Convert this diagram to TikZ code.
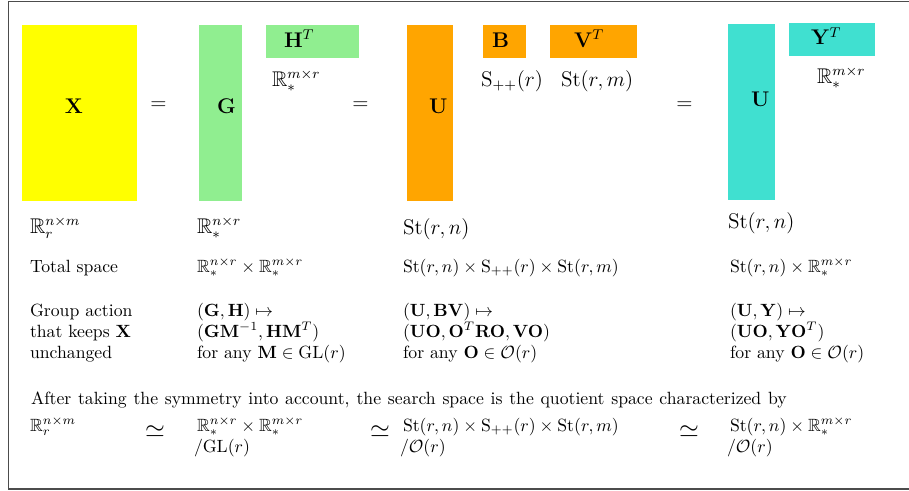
\documentclass[tikz,border=0pt]{standalone}
\usepackage{amsmath,amssymb}
\definecolor{cyellow}{HTML}{FFFF00}
\definecolor{cgreen}{HTML}{90EE90}
\definecolor{corange}{HTML}{FFA500}
\definecolor{cturq}{HTML}{40E0D0}
\begin{document}
\begin{tikzpicture}[x=0.565pt,y=-0.565pt,
  txt/.style={anchor=base west, inner sep=0pt, outer sep=0pt},
  big/.style={txt, font=\large},
  eqs/.style={inner sep=0pt, font=\large},
  sim/.style={inner sep=0pt, font=\Large}]
\useasboundingbox (0,0) rectangle (909,491);
\draw[black!70, line width=0.7pt] (909,1.5) -- (8.5,1.5) -- (8.5,489) -- (909,489);
% boxes
\fill[cyellow] (22,25) rectangle (137,201);
\fill[cgreen] (199,25) rectangle (242,201);
\fill[cgreen] (266,25) rectangle (359,58);
\fill[corange] (407,25) rectangle (453,201);
\fill[corange] (483,25) rectangle (526,58);
\fill[corange] (550,25) rectangle (637,58);
\fill[cturq] (728,24) rectangle (775,200);
\fill[cturq] (789,23) rectangle (875,56);
% box labels
\node[big] (lX) at (65,113) {$\mathbf{X}$};
\node[big] (lG) at (217,113) {$\mathbf{G}$};
\node[big] (lH) at (284,47) {$\mathbf{H}^T$};
\node[big] (lU1) at (429,113) {$\mathbf{U}$};
\node[big] (lB) at (492,47) {$\mathbf{B}$};
\node[big] (lV) at (574,47) {$\mathbf{V}^T$};
\node[big] (lU2) at (751,106) {$\mathbf{U}$};
\node[big] (lY) at (811,45) {$\mathbf{Y}^T$};
% equals
\node[eqs] (eq1) at (158.5,106) {$=$};
\node[eqs] (eq2) at (360.5,106) {$=$};
\node[eqs] (eq3) at (684.5,106) {$=$};
% space labels
\node[big] (sX) at (30,233) {$\mathbb{R}_r^{n\times m}$};
\node[big] (sG) at (197,233) {$\mathbb{R}_*^{n\times r}$};
\node[big] (sH) at (272,86) {$\mathbb{R}_*^{m\times r}$};
\node[big] (sU1) at (403,234) {$\mathrm{St}(r,n)$};
\node[big] (sB) at (481,86) {$\mathrm{S}_{++}(r)$};
\node[big] (sV) at (561,86) {$\mathrm{St}(r,m)$};
\node[big] (sU2) at (728,228) {$\mathrm{St}(r,n)$};
\node[big] (sY) at (817,83) {$\mathbb{R}_*^{m\times r}$};
% total space row
\node[txt] (t1) at (30,272) {Total space};
\node[txt] (t2) at (197,272) {$\mathbb{R}_*^{n\times r}\times\mathbb{R}_*^{m\times r}$};
\node[txt] (t3) at (403,272) {$\mathrm{St}(r,n)\times\mathrm{S}_{++}(r)\times\mathrm{St}(r,m)$};
\node[txt] (t4) at (730,272) {$\mathrm{St}(r,n)\times\mathbb{R}_*^{m\times r}$};
% group action rows
\node[txt] (g1a) at (30,316) {Group action};
\node[txt] (g1b) at (30,337) {that keeps $\mathbf{X}$};
\node[txt] (g1c) at (30,358) {unchanged};
\node[txt] (g2a) at (197,316) {$(\mathbf{G},\mathbf{H})\mapsto$};
\node[txt] (g2b) at (197,337) {$(\mathbf{G}\mathbf{M}^{-1},\mathbf{H}\mathbf{M}^T)$};
\node[txt] (g2c) at (197,358) {for any $\mathbf{M}\in\mathrm{GL}(r)$};
\node[txt] (g3a) at (403,316) {$(\mathbf{U},\mathbf{B}\mathbf{V})\mapsto$};
\node[txt] (g3b) at (403,337) {$(\mathbf{U}\mathbf{O},\mathbf{O}^T\mathbf{R}\mathbf{O},\mathbf{V}\mathbf{O})$};
\node[txt] (g3c) at (403,358) {for any $\mathbf{O}\in\mathcal{O}(r)$};
\node[txt] (g4a) at (730,316) {$(\mathbf{U},\mathbf{Y})\mapsto$};
\node[txt] (g4b) at (730,337) {$(\mathbf{U}\mathbf{O},\mathbf{Y}\mathbf{O}^T)$};
\node[txt] (g4c) at (730,358) {for any $\mathbf{O}\in\mathcal{O}(r)$};
% after
\node[txt] (aft) at (31,404) {\makebox[427pt][s]{After taking the symmetry into account, the search space is the quotient space characterized by}};
% quotient row
\node[txt] (q1) at (30,431) {$\mathbb{R}_r^{n\times m}$};
\node[sim] (s1) at (155,432) {$\simeq$};
\node[txt] (q2a) at (197,431) {$\mathbb{R}_*^{n\times r}\times\mathbb{R}_*^{m\times r}$};
\node[txt] (q2b) at (194,452) {$/\mathrm{GL}(r)$};
\node[sim] (s2) at (380,432) {$\simeq$};
\node[txt] (q3a) at (403,431) {$\mathrm{St}(r,n)\times\mathrm{S}_{++}(r)\times\mathrm{St}(r,m)$};
\node[txt] (q3b) at (400,452) {$/\mathcal{O}(r)$};
\node[sim] (s3) at (689,432) {$\simeq$};
\node[txt] (q4a) at (730,431) {$\mathrm{St}(r,n)\times\mathbb{R}_*^{m\times r}$};
\node[txt] (q4b) at (727,452) {$/\mathcal{O}(r)$};
\end{tikzpicture}
\end{document}
